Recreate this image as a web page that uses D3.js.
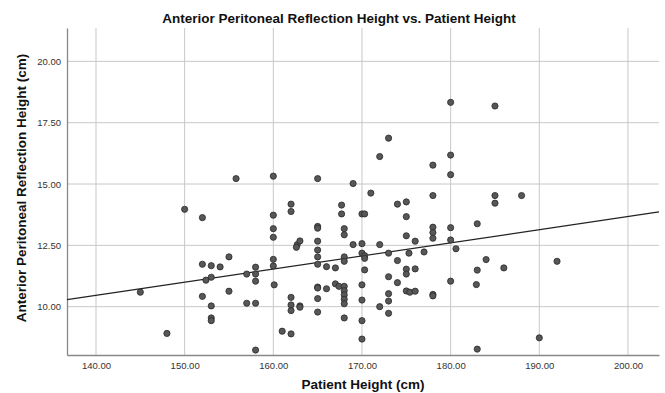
<!DOCTYPE html>
<html>
<head>
<meta charset="utf-8">
<script src="https://cdn.jsdelivr.net/npm/d3@7"></script>
<style>
  body { margin: 0; background: #fff; }
  svg { display: block; }
</style>
</head>
<body>
<div id="chart"></div>
<script>
// patient height (cm) and anterior peritoneal reflection height (cm)
var patientHeight = [
    145, 148, 150, 152, 152, 152, 152.4, 153, 153, 153, 153, 153, 154, 155, 155, 155.8,
    157, 157, 158, 158, 158, 158, 158, 160, 160, 160, 160, 160, 160, 160.1, 161,
    162, 162, 162, 162, 162, 162, 162.7, 162.6, 163, 163, 163,
    165, 165, 165, 165, 165, 165, 165, 165, 165, 165, 165, 166, 166, 167, 167, 167.4,
    167.7, 167.7, 168, 168, 168, 168, 168, 168, 168, 168, 168, 168, 169, 169,
    170, 170.3, 170, 170, 170.3, 170.3, 170.3, 170, 170, 170, 170, 171, 172, 172, 172,
    173, 173, 173, 173, 173, 173, 174, 174, 174, 175, 175, 175, 175.3, 175, 175, 175, 175.4,
    176, 176, 176, 177, 178, 178, 178, 178, 178, 178, 178,
    180, 180, 180, 180, 180, 180, 180.6, 182.9, 183, 183, 183, 184, 185, 185, 185, 186, 188, 190, 192
];
var reflectionHeight = [
    10.59, 8.91, 13.97, 13.63, 11.73, 10.42, 11.08, 11.67, 11.2, 10.03, 9.54, 9.43, 11.62, 12.03, 10.63, 15.22,
    11.33, 10.14, 11.61, 11.33, 11.04, 10.14, 8.23, 15.32, 13.73, 13.18, 12.83, 11.93, 11.66, 10.89, 9.0,
    14.18, 13.88, 10.38, 10.07, 9.84, 8.89, 12.53, 12.42, 12.68, 10.03, 9.98,
    15.22, 13.27, 13.2, 12.67, 12.31, 12.03, 11.73, 10.8, 10.76, 10.33, 9.78, 11.63, 10.73, 11.58, 10.93, 10.83,
    14.14, 13.78, 13.18, 12.93, 12.03, 11.85, 10.83, 10.65, 10.48, 10.3, 10.12, 9.54, 15.02, 12.53,
    13.78, 13.78, 12.57, 12.18, 12.08, 11.97, 11.5, 10.89, 10.27, 9.43, 8.68, 14.63, 16.12, 12.53, 10.0,
    16.87, 12.18, 11.22, 10.53, 10.23, 9.73, 14.18, 11.88, 10.98, 14.27, 13.67, 12.89, 12.18, 11.53, 11.33, 10.64, 10.59,
    12.67, 11.54, 10.63, 12.23, 15.77, 14.53, 13.24, 13.02, 12.79, 10.5, 10.44,
    18.33, 16.18, 15.38, 13.22, 12.72, 11.04, 12.36, 10.9, 13.38, 11.49, 8.27, 11.92, 18.18, 14.53, 14.22, 11.58, 14.53, 8.73, 11.85
];
var xTicks = [140, 150, 160, 170, 180, 190, 200];
var yTicks = [10, 12.5, 15, 17.5, 20];
var xDomain = [136.73, 203.5];
var yDomain = [8.03, 21.36];

var width = 665, height = 393;
var margin = {top: 28, right: 6, bottom: 38, left: 67};

var svg = d3.select("#chart").append("svg")
    .attr("width", width)
    .attr("height", height);

var x = d3.scaleLinear().domain(xDomain).range([margin.left, width - margin.right]);
var y = d3.scaleLinear().domain(yDomain).range([height - margin.bottom, margin.top]);

var points = patientHeight.map(function(d, i) {
    return {x: d, y: reflectionHeight[i]};
});

// grid
svg.append("g").selectAll("line")
    .data(xTicks).enter().append("line")
    .attr("x1", function(d) { return x(d); })
    .attr("x2", function(d) { return x(d); })
    .attr("y1", y.range()[1])
    .attr("y2", y.range()[0])
    .attr("stroke", "#c8c8c8")
    .attr("stroke-width", 1);

svg.append("g").selectAll("line")
    .data(yTicks).enter().append("line")
    .attr("x1", x.range()[0])
    .attr("x2", x.range()[1])
    .attr("y1", function(d) { return y(d); })
    .attr("y2", function(d) { return y(d); })
    .attr("stroke", "#c8c8c8")
    .attr("stroke-width", 1);

// axes
var xAxis = svg.append("g")
    .attr("transform", "translate(0," + y.range()[0] + ")")
    .call(d3.axisBottom(x).tickValues(xTicks).tickSize(0).tickPadding(7).tickFormat(d3.format(".2f")));
var yAxis = svg.append("g")
    .attr("transform", "translate(" + x.range()[0] + ",0)")
    .call(d3.axisLeft(y).tickValues(yTicks).tickSize(0).tickPadding(6).tickFormat(d3.format(".2f")));

[xAxis, yAxis].forEach(function(a) {
    a.select(".domain").attr("stroke", "#888").attr("stroke-width", 1.3);
    a.selectAll("text")
        .attr("font-family", "Liberation Sans, Arial, sans-serif")
        .attr("font-size", "9.5px")
        .attr("fill", "#333");
});

// least squares fit line
var mx = d3.mean(patientHeight), my = d3.mean(reflectionHeight);
var sxy = d3.sum(points, function(d) { return (d.x - mx) * (d.y - my); });
var sxx = d3.sum(points, function(d) { return (d.x - mx) * (d.x - mx); });
var slope = sxy / sxx, intercept = my - slope * mx;

svg.append("line")
    .attr("x1", x(xDomain[0]))
    .attr("y1", y(intercept + slope * xDomain[0]))
    .attr("x2", x(xDomain[1]))
    .attr("y2", y(intercept + slope * xDomain[1]))
    .attr("stroke", "#222")
    .attr("stroke-width", 1.2);

// points
svg.append("g").selectAll("circle")
    .data(points).enter().append("circle")
    .attr("cx", function(d) { return x(d.x); })
    .attr("cy", function(d) { return y(d.y); })
    .attr("r", 3.1)
    .attr("fill", "#575757")
    .attr("stroke", "#2a2a2a")
    .attr("stroke-width", 0.8);

// titles
svg.append("text")
    .attr("x", 339)
    .attr("y", 23)
    .attr("text-anchor", "middle")
    .attr("font-family", "Liberation Sans, Arial, sans-serif")
    .attr("font-weight", "bold")
    .attr("font-size", "13.5px")
    .attr("fill", "#111")
    .text("Anterior Peritoneal Reflection Height vs. Patient Height");

svg.append("text")
    .attr("x", (x.range()[0] + x.range()[1]) / 2)
    .attr("y", 389)
    .attr("text-anchor", "middle")
    .attr("font-family", "Liberation Sans, Arial, sans-serif")
    .attr("font-weight", "bold")
    .attr("font-size", "13.5px")
    .attr("fill", "#111")
    .text("Patient Height (cm)");

svg.append("text")
    .attr("transform", "translate(26," + 188 + ") rotate(-90)")
    .attr("text-anchor", "middle")
    .attr("font-family", "Liberation Sans, Arial, sans-serif")
    .attr("font-weight", "bold")
    .attr("font-size", "13.5px")
    .attr("fill", "#111")
    .text("Anterior Peritoneal Reflection Height (cm)");
</script>
</body>
</html>
